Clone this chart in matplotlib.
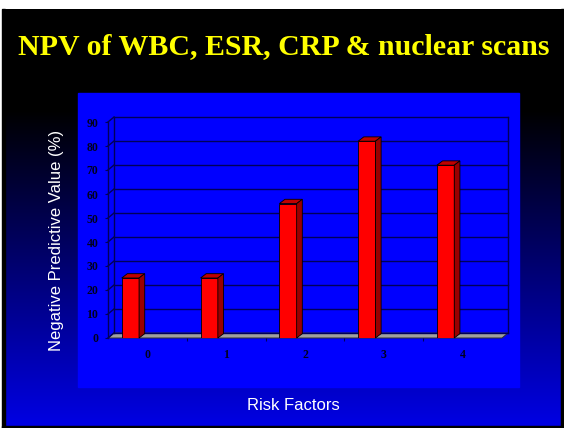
import numpy as np
import matplotlib.pyplot as plt
from matplotlib.patches import Rectangle, Polygon

# negative predictive value by number of risk factors
risk_factors = ['0', '1', '2', '3', '4']
npv = [25, 25, 56, 82, 72]
y_ticks = [0, 10, 20, 30, 40, 50, 60, 70, 80, 90]

W, H = 564, 428
fig = plt.figure(figsize=(W / 100, H / 100), dpi=100)

# slide background in pixel coordinates
bg = fig.add_axes([0, 0, 1, 1])
bg.set_xlim(0, W)
bg.set_ylim(H, 0)
bg.axis('off')
bg.add_patch(Rectangle((0, 0), W, H, color='white', zorder=0))
rows = np.arange(9, H)
b = np.clip((rows - 110) / (H - 110), 0, 1) * 0.9
grad = np.zeros((len(rows), 1, 3))
grad[:, 0, 2] = b
bg.imshow(grad, extent=(2, W, H, 9), aspect='auto', zorder=1, interpolation='bilinear')
# black frame of the slide
bg.add_patch(Rectangle((2, 9), 3, H - 9, color='black', zorder=2))
bg.add_patch(Rectangle((W - 3, 9), 3, H - 9, color='black', zorder=2))
bg.add_patch(Rectangle((2, H - 2), W - 2, 2, color='black', zorder=2))
# chart panel
bg.add_patch(Rectangle((78, 93), 441, 294, color='#0000FF', zorder=3))

bg.text(284, 47, 'NPV of WBC, ESR, CRP & nuclear scans', color='#FFFF00',
        fontsize=21.5, fontweight='bold', family='Liberation Serif',
        ha='center', va='center', zorder=4)
bg.text(57, 240, 'Negative Predictive Value (%)', color='white', fontsize=12,
        family='Liberation Sans', rotation=90, ha='center', va='center', zorder=4)
bg.text(293, 405, 'Risk Factors', color='white', fontsize=12,
        family='Liberation Sans', ha='center', va='center', zorder=4)

# plot area (front plane of the 3-D box)
ax = fig.add_axes([108 / W, 90 / H, 394 / W, 216 / H])
ax.set_facecolor('none')
ax.set_xlim(-0.5, 4.5)
ax.set_ylim(0, 90)
for s in ax.spines.values():
    s.set_visible(False)

grid_c = '#00005A'
dx, dy = 0.076, 2.08      # wall depth
bdx, bdy = 0.072, 1.8     # bar depth
x0, x1 = -0.5, 4.5

# floor slab
ax.add_patch(Polygon([(x0, 0), (x1, 0), (x1 + dx, dy), (x0 + dx, dy)],
                     closed=True, facecolor='#A0A0A0', edgecolor='#303030',
                     lw=0.7, clip_on=False, zorder=1))
# back wall gridlines and left wall
for v in y_ticks:
    ax.plot([x0 + dx, x1 + dx], [v + dy, v + dy], color=grid_c, lw=1.0,
            clip_on=False, zorder=2)
    ax.plot([x0, x0 + dx], [v, v + dy], color=grid_c, lw=1.0, clip_on=False, zorder=2)
ax.plot([x0, x0], [0, 90], color=grid_c, lw=1.0, clip_on=False, zorder=2)
ax.plot([x0 + dx, x0 + dx], [dy, 90 + dy], color=grid_c, lw=1.0, clip_on=False, zorder=2)
ax.plot([x1 + dx, x1 + dx], [dy, 90 + dy], color=grid_c, lw=1.0, clip_on=False, zorder=2)

# 3-D columns
pos = np.arange(len(npv))
bw = 0.22
left = pos - 0.326
ax.bar(left + bw / 2, npv, bw, color='#FF0000', edgecolor='black', lw=0.6, zorder=4)
for xl, v in zip(left, npv):
    top = [(xl, v), (xl + bw, v), (xl + bw + bdx, v + bdy), (xl + bdx, v + bdy)]
    side = [(xl + bw, 0), (xl + bw + bdx, bdy), (xl + bw + bdx, v + bdy), (xl + bw, v)]
    ax.add_patch(Polygon(top, closed=True, facecolor='#C00000', edgecolor='black',
                         lw=0.6, clip_on=False, zorder=4))
    ax.add_patch(Polygon(side, closed=True, facecolor='#9A0000', edgecolor='black',
                         lw=0.6, clip_on=False, zorder=4))

ax.set_yticks(y_ticks)
ax.set_yticklabels([str(t) for t in y_ticks])
ax.set_xticks(pos)
ax.set_xticklabels(risk_factors)
ax.set_xticks(np.arange(0.5, 4.5, 1), minor=True)
ax.tick_params(axis='y', length=2.5, width=0.8, color=grid_c, pad=4.5)
ax.tick_params(axis='x', which='major', length=0, pad=8)
ax.tick_params(axis='x', which='minor', length=2.5, width=0.8, color=grid_c)
for lab in ax.get_xticklabels() + ax.get_yticklabels():
    lab.set_family('Liberation Serif')
    lab.set_fontweight('bold')
    lab.set_fontsize(8.5)
    lab.set_color('#000020')

fig.savefig('out.png', dpi=100)
